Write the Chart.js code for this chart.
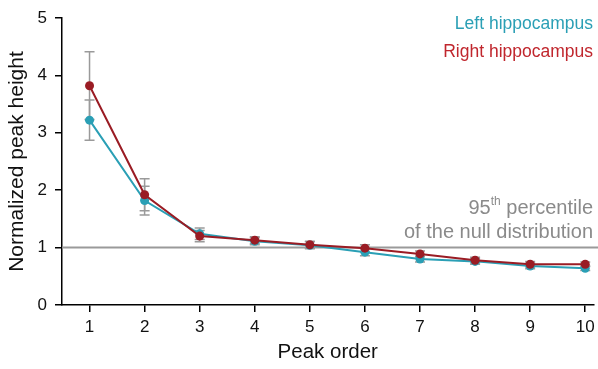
<!DOCTYPE html>
<html><head><meta charset="utf-8">
<script src="https://cdn.jsdelivr.net/npm/chart.js@4/dist/chart.umd.min.js"></script>
<style>html,body{margin:0;padding:0;background:#fff}#wrap{width:598px;height:369px}</style>
</head><body><div id="wrap"><canvas id="c"></canvas></div>
<script>
const peakOrder = [1,2,3,4,5,6,7,8,9,10];
const leftMean  = [3.22,1.82,1.24,1.11,1.04,0.92,0.80,0.76,0.68,0.64];
const leftErr   = [0.35,0.25,0.10,0.06,0.06,0.06,0.05,0.05,0.05,0.04];
const rightMean = [3.82,1.92,1.20,1.13,1.05,0.99,0.89,0.78,0.71,0.71];
const rightErr  = [0.59,0.28,0.10,0.06,0.06,0.06,0.05,0.05,0.05,0.04];
const threshold = 1;
const yTicks = [0,1,2,3,4,5];
const legendLabels = ["Left hippocampus","Right hippocampus"];
const TEAL = "#2a9fb5", RED = "#9a1c24", RED_TXT = "#c0262d", GRAY = "#9a9a9a";
const FONT = "'Liberation Sans', Arial, sans-serif";

const errPlugin = {
  id:'err',
  beforeDatasetsDraw(chart){
    const ctx = chart.ctx, xs = chart.scales.x, ys = chart.scales.y;
    ctx.save();
    ctx.strokeStyle = GRAY; ctx.lineWidth = 2;
    ctx.beginPath();
    ctx.moveTo(chart.chartArea.left, ys.getPixelForValue(threshold));
    ctx.lineTo(chart.width, ys.getPixelForValue(threshold));
    ctx.stroke();
    ctx.strokeStyle = GRAY; ctx.lineWidth = 1.5;
    [[leftMean,leftErr],[rightMean,rightErr]].forEach(([m,e])=>{
      m.forEach((v,i)=>{
        const x = xs.getPixelForValue(peakOrder[i]);
        const y1 = ys.getPixelForValue(v - e[i]), y2 = ys.getPixelForValue(v + e[i]);
        ctx.beginPath();
        ctx.moveTo(x,y1); ctx.lineTo(x,y2);
        ctx.moveTo(x-5,y1); ctx.lineTo(x+5,y1);
        ctx.moveTo(x-5,y2); ctx.lineTo(x+5,y2);
        ctx.stroke();
      });
    });
    ctx.restore();
  },
  afterDraw(chart){
    const ctx = chart.ctx;
    ctx.save();
    ctx.textAlign = 'right'; ctx.textBaseline = 'alphabetic';
    ctx.font = "17.5px " + FONT;
    ctx.fillStyle = TEAL; ctx.fillText(legendLabels[0], 593, 29);
    ctx.fillStyle = RED_TXT; ctx.fillText(legendLabels[1], 593, 57);
    ctx.fillStyle = "#8a8a8a";
    const big = "20px " + FONT, small = "12px " + FONT;
    ctx.font = big;
    const p = " percentile";
    const wP = ctx.measureText(p).width;
    ctx.font = small;
    const wTh = ctx.measureText("th").width;
    const xr = 593;
    ctx.font = big;
    ctx.fillText(p, xr, 214);
    ctx.font = small;
    ctx.fillText("th", xr - wP, 205);
    ctx.font = big;
    ctx.fillText("95", xr - wP - wTh, 214);
    ctx.fillText("of the null distribution", xr, 238);
    ctx.restore();
  }
};

new Chart(document.getElementById('c'), {
  type:'line',
  data:{
    datasets:[
      {label:legendLabels[0], data: peakOrder.map((x,i)=>({x, y:leftMean[i]})), borderColor:TEAL, backgroundColor:TEAL, borderWidth:2, pointRadius:4.5, pointBorderWidth:0, order:2},
      {label:legendLabels[1], data: peakOrder.map((x,i)=>({x, y:rightMean[i]})), borderColor:RED, backgroundColor:RED, borderWidth:2, pointRadius:4.5, pointBorderWidth:0, order:1}
    ]
  },
  options:{
    responsive:true, maintainAspectRatio:false, animation:false,
    layout:{padding:{top:18,right:0,left:0,bottom:0}},
    plugins:{legend:{display:false}, tooltip:{enabled:false}},
    scales:{
      x:{type:'linear', min:0.5, max:10.15,
        afterBuildTicks(s){ s.ticks = peakOrder.map(v=>({value:v})); },
        afterFit(s){ s.height = 64; s.paddingLeft = 0; s.paddingRight = 0; },
        grid:{display:true, drawOnChartArea:false, drawTicks:true, tickLength:7, tickColor:'#000', lineWidth:1.5},
        border:{display:true, color:'#000', width:1.5},
        ticks:{color:'#111', font:{family:FONT, size:17}, padding:5, maxRotation:0, autoSkip:false},
        title:{display:true, text:'Peak order', color:'#111', font:{family:FONT, size:20.5}, padding:{top:6}}
      },
      y:{type:'linear', min:0, max:5,
        afterBuildTicks(s){ s.ticks = yTicks.map(v=>({value:v})); },
        afterFit(s){ s.width = 62; s.paddingTop = 0; s.paddingBottom = 0; },
        grid:{display:true, drawOnChartArea:false, drawTicks:true, tickLength:7, tickColor:'#000', lineWidth:1.5},
        border:{display:true, color:'#000', width:1.5},
        ticks:{color:'#111', font:{family:FONT, size:17}, padding:8},
        title:{display:true, text:'Normalized peak height', color:'#111', font:{family:FONT, size:21}, padding:{top:5,bottom:2}}
      }
    }
  },
  plugins:[errPlugin]
});
</script></body></html>
